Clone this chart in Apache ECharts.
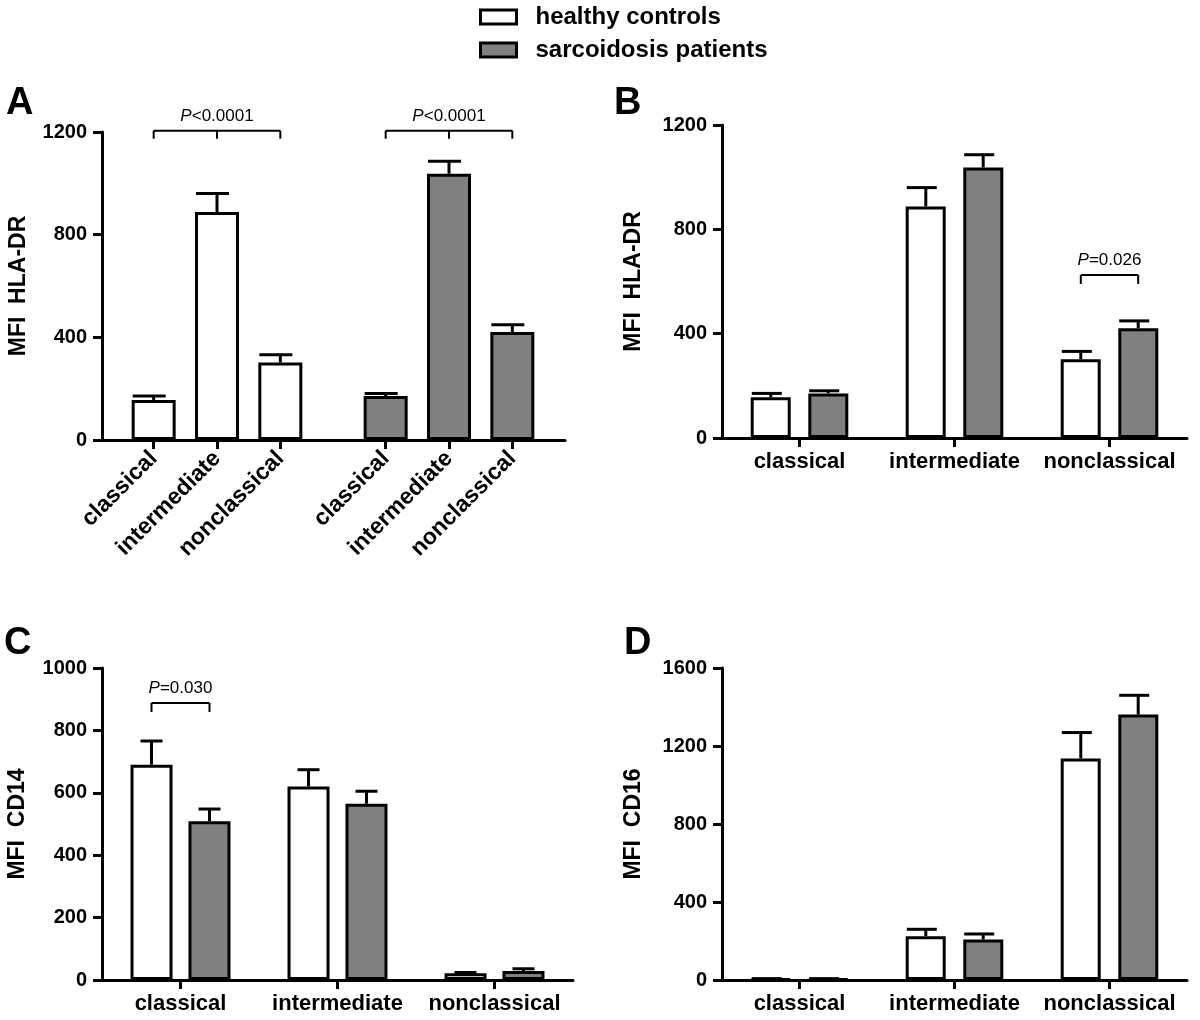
<!DOCTYPE html>
<html>
<head>
<meta charset="utf-8">
<script src="https://cdn.jsdelivr.net/npm/echarts@6/dist/echarts.min.js"></script>
<style>
  body { margin: 0; background: #fff; }
  #chart { width: 1200px; height: 1020px; }
</style>
</head>
<body>
<div id="chart"></div>
<script>
const FONT = '"Liberation Sans", Arial, sans-serif'

// monocyte subsets
const categories = ['classical', 'intermediate', 'nonclassical']

// MFI HLA-DR (panels A and B)
const hlaHealthy = [156, 888, 302]
const hlaHealthyErr = [15, 72, 30]
const hlaPatients = [171, 1037, 421]
const hlaPatientsErr = [10, 49, 28]

// MFI CD14 (panel C)
const cd14Healthy = [690, 620, 22]
const cd14HealthyErr = [76, 54, 2]
const cd14Patients = [509, 565, 29]
const cd14PatientsErr = [39, 40, 7]

// MFI CD16 (panel D)
const cd16Healthy = [6, 225, 1136]
const cd16HealthyErr = [1, 35, 133]
const cd16Patients = [6, 208, 1361]
const cd16PatientsErr = [1, 28, 99]

// significance brackets: [text after italic P, level]
const sigHla = ['<0.0001', 1205]
const sigHlaNonclassical = ['=0.026', 625]
const sigCd14Classical = ['=0.030', 888]

const axisLineStyle = { color: '#000', width: 3 }
const tickStyle = { show: true, length: 9, lineStyle: { color: '#000', width: 3 } }
const catLabel = { color: '#000', fontFamily: FONT, fontWeight: 'bold', fontSize: 22, margin: 13, interval: 0 }

const whiteBar = { color: '#fff', borderColor: '#000', borderWidth: 3 }
const greyBar = { color: '#808080', borderColor: '#000', borderWidth: 3 }

function valueAxis(grid, max, interval, name, gap) {
  return {
    type: 'value', gridIndex: grid, min: 0, max: max, interval: interval,
    name: name, nameLocation: 'middle', nameGap: gap,
    nameTextStyle: { color: '#000', fontFamily: FONT, fontWeight: 'bold', fontSize: 23 },
    axisLine: { show: true, lineStyle: axisLineStyle },
    axisTick: tickStyle,
    axisLabel: {
      color: '#000', fontFamily: FONT, fontWeight: 'bold', fontSize: 20, margin: 15,
      formatter: v => String(v)
    },
    splitLine: { show: false }
  }
}

function catAxis(grid, opts) {
  return Object.assign({
    type: 'category', gridIndex: grid, data: categories,
    axisLine: { show: true, lineStyle: axisLineStyle },
    axisTick: Object.assign({ alignWithLabel: true }, tickStyle),
    axisLabel: catLabel
  }, opts)
}

function barSeries(name, axis, data, style, width, gap) {
  return {
    type: 'bar', name: name, xAxisIndex: axis, yAxisIndex: axis,
    data: data, barWidth: width, barGap: gap, itemStyle: style, z: 3
  }
}

// upper error bar only, like in the original figure
function errorSeries(axis, values, errs, offset, capL, capR) {
  return {
    type: 'custom', name: 'err' + axis + offset, xAxisIndex: axis, yAxisIndex: axis, z: 5,
    data: values.map((v, i) => [i, v, errs[i]]),
    renderItem: (params, api) => {
      const base = api.coord([api.value(0), api.value(1)])
      const top = api.coord([api.value(0), api.value(1) + api.value(2)])
      const cx = base[0] + offset
      const st = { stroke: '#000', lineWidth: 3 }
      return {
        type: 'group',
        children: [
          { type: 'line', shape: { x1: cx, y1: base[1], x2: cx, y2: top[1] }, style: st },
          { type: 'line', shape: { x1: cx - capL, y1: top[1], x2: cx + capR, y2: top[1] }, style: st }
        ]
      }
    }
  }
}

function bracketSeries(axis, from, to, mid, sig, dx, drop) {
  return {
    type: 'custom', name: 'sig' + axis, xAxisIndex: axis, yAxisIndex: axis, z: 6,
    data: [[from, to, sig[1]]],
    renderItem: (params, api) => {
      const p1 = api.coord([api.value(0), api.value(2)])
      const p2 = api.coord([api.value(1), api.value(2)])
      const x1 = p1[0] - dx, x2 = p2[0] + dx, y = p1[1]
      const st = { stroke: '#000', lineWidth: 2 }
      const kids = [
        { type: 'line', shape: { x1: x1, y1: y, x2: x2, y2: y }, style: st },
        { type: 'line', shape: { x1: x1, y1: y, x2: x1, y2: y + drop }, style: st },
        { type: 'line', shape: { x1: x2, y1: y, x2: x2, y2: y + drop }, style: st },
        {
          type: 'text',
          style: {
            text: '{i|P}' + sig[0], x: (x1 + x2) / 2, y: y - 6,
            align: 'center', verticalAlign: 'bottom',
            fontFamily: FONT, fontSize: 17, fill: '#000',
            rich: { i: { fontStyle: 'italic', fontFamily: FONT, fontSize: 17 } }
          }
        }
      ]
      if (mid !== null) {
        const xm = api.coord([mid, api.value(2)])[0]
        kids.push({ type: 'line', shape: { x1: xm, y1: y, x2: xm, y2: y + drop }, style: st })
      }
      return { type: 'group', children: kids }
    }
  }
}

const panelTitle = (text, left, top) => ({
  text: text, left: left, top: top, padding: 0,
  textStyle: { fontFamily: FONT, fontWeight: 'bold', fontSize: 38, color: '#000' }
})

const rotated = Object.assign({}, catLabel, { rotate: 45, margin: 15, fontSize: 23 })

const chart = echarts.init(document.getElementById('chart'))
chart.setOption({
  animation: false,
  backgroundColor: '#fff',
  title: [
    panelTitle('A', 6, 85),
    panelTitle('B', 614, 85),
    panelTitle('C', 4, 625),
    panelTitle('D', 624, 625)
  ],
  legend: {
    orient: 'vertical', left: 474, top: 0,
    itemWidth: 36, itemHeight: 14, itemGap: 9,
    icon: 'rect',
    textStyle: { fontFamily: FONT, fontWeight: 'bold', fontSize: 24, color: '#000', padding: [0, 0, 0, 14] },
    data: [
      { name: 'healthy controls', itemStyle: whiteBar },
      { name: 'sarcoidosis patients', itemStyle: greyBar }
    ]
  },
  grid: [
    { left: 102, top: 132, width: 463, height: 308 },   // A frame
    { left: 122, top: 132, width: 190, height: 308 },   // A healthy
    { left: 354, top: 132, width: 190, height: 308 },   // A patients
    { left: 722, top: 125, width: 465, height: 313 },   // B
    { left: 102, top: 668, width: 471, height: 312 },   // C
    { left: 722, top: 668, width: 465, height: 312 }    // D
  ],
  xAxis: [
    {
      type: 'value', gridIndex: 0, min: 0, max: 1,
      axisLine: { show: true, lineStyle: axisLineStyle },
      axisTick: { show: false }, axisLabel: { show: false }, splitLine: { show: false }
    },
    catAxis(1, { axisLine: { show: false }, axisLabel: rotated }),
    catAxis(2, { axisLine: { show: false }, axisLabel: rotated }),
    catAxis(3),
    catAxis(4),
    catAxis(5)
  ],
  yAxis: [
    valueAxis(0, 1200, 400, 'MFI  HLA-DR', 72),
    { type: 'value', gridIndex: 1, min: 0, max: 1200, show: false },
    { type: 'value', gridIndex: 2, min: 0, max: 1200, show: false },
    valueAxis(3, 1200, 400, 'MFI  HLA-DR', 77),
    valueAxis(4, 1000, 200, 'MFI  CD14', 73),
    valueAxis(5, 1600, 400, 'MFI  CD16', 77)
  ],
  series: [
    // A
    barSeries('healthy controls', 1, hlaHealthy, whiteBar, 44),
    errorSeries(1, hlaHealthy, hlaHealthyErr, 0, 21, 12),
    bracketSeries(1, 0, 2, 1, sigHla, 0, 8),
    barSeries('sarcoidosis patients', 2, hlaPatients, greyBar, 44),
    errorSeries(2, hlaPatients, hlaPatientsErr, 0, 21, 12),
    bracketSeries(2, 0, 2, 1, sigHla, 0, 8),
    // B
    barSeries('healthy controls', 3, hlaHealthy, whiteBar, 40, '44%'),
    barSeries('sarcoidosis patients', 3, hlaPatients, greyBar, 40, '44%'),
    errorSeries(3, hlaHealthy, hlaHealthyErr, -28.7, 19, 11),
    errorSeries(3, hlaPatients, hlaPatientsErr, 28.7, 19, 11),
    bracketSeries(3, 2, 2, null, sigHlaNonclassical, 28.7, 9),
    // C
    barSeries('healthy controls', 4, cd14Healthy, whiteBar, 42, '38%'),
    barSeries('sarcoidosis patients', 4, cd14Patients, greyBar, 42, '38%'),
    errorSeries(4, cd14Healthy, cd14HealthyErr, -29, 11, 11),
    errorSeries(4, cd14Patients, cd14PatientsErr, 29, 11, 11),
    bracketSeries(4, 0, 0, null, sigCd14Classical, 29, 9),
    // D
    barSeries('healthy controls', 5, cd16Healthy, whiteBar, 40, '44%'),
    barSeries('sarcoidosis patients', 5, cd16Patients, greyBar, 40, '44%'),
    errorSeries(5, cd16Healthy, cd16HealthyErr, -28.7, 19, 11),
    errorSeries(5, cd16Patients, cd16PatientsErr, 28.7, 19, 11)
  ]
})
</script>
</body>
</html>
